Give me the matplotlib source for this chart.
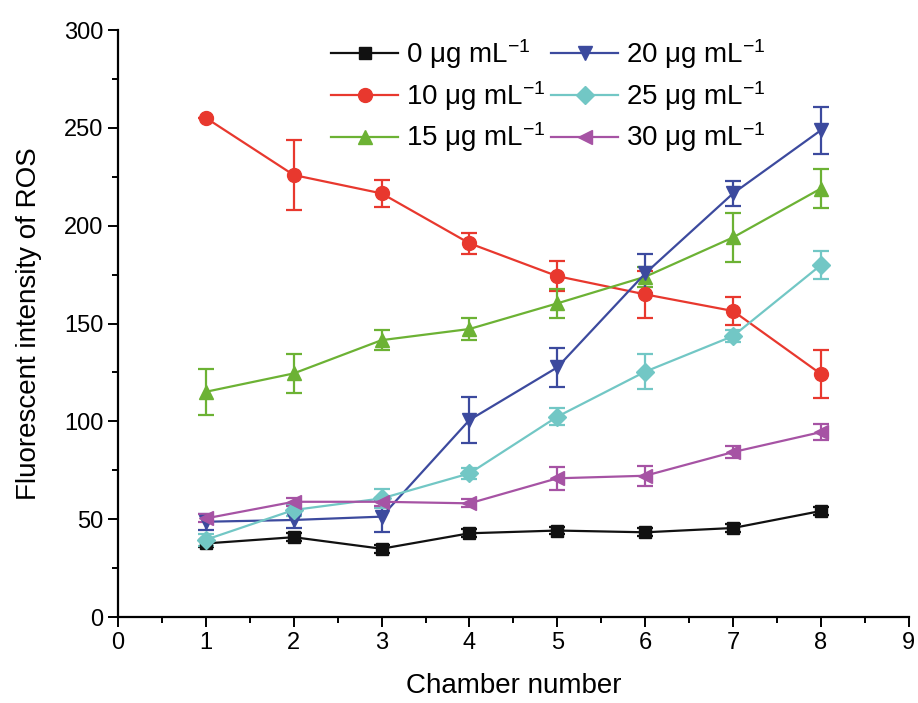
import matplotlib
matplotlib.use('Agg')
from matplotlib import pyplot as plt
from matplotlib.ticker import MultipleLocator

plt.rcParams['font.family'] = ['Liberation Sans', 'DejaVu Sans']
plt.rcParams['mathtext.default'] = 'regular'

# chamber numbers and ROS intensity
chambers = [1, 2, 3, 4, 5, 6, 7, 8]

c0 = [37.6, 40.8, 34.9, 42.8, 44.2, 43.3, 45.5, 54.2]
c0_err = [2, 2, 2, 2, 2, 2, 2, 2]

c10 = [255.1, 225.9, 216.5, 191.0, 174.2, 164.9, 156.4, 124.2]
c10_err = [0, 17.7, 7, 5.5, 7.5, 12, 7, 12.5]

c15 = [115.1, 124.5, 141.5, 147.2, 160.3, 173.9, 194.0, 219.0]
c15_err = [11.7, 10, 5, 5.5, 7.5, 5, 12.5, 10]

c20 = [48.7, 49.6, 51.3, 100.7, 127.6, 175.6, 216.5, 248.8]
c20_err = [4, 4, 8, 12, 10, 10, 6.5, 12]

c25 = [39.5, 54.7, 60.6, 73.4, 102.4, 125.4, 143.6, 179.9]
c25_err = [3, 3, 5, 3, 4.5, 9, 3, 7]

c30 = [50.4, 58.9, 58.9, 58.1, 70.9, 72.2, 84.3, 94.5]
c30_err = [2, 2, 2, 2, 6, 5, 3, 4]

labels = ['0 \u03bcg mL$^{-1}$', '10 \u03bcg mL$^{-1}$', '15 \u03bcg mL$^{-1}$',
          '20 \u03bcg mL$^{-1}$', '25 \u03bcg mL$^{-1}$', '30 \u03bcg mL$^{-1}$']
series = [c0, c10, c15, c20, c25, c30]
errors = [c0_err, c10_err, c15_err, c20_err, c25_err, c30_err]
colors = ['#111111', '#e8382e', '#6cb234', '#3c4a9e', '#72c7c5', '#a653a4']
markers = ['s', 'o', '^', 'v', 'D', '<']
msizes = [8, 10, 10, 10, 9, 10]

fig = plt.figure(figsize=(9.18, 7.03), dpi=100)
ax = fig.add_axes([0.1285, 0.1223, 0.8615, 0.8350])

for y, e, c, m, ms, lab in zip(series, errors, colors, markers, msizes, labels):
    ax.errorbar(chambers, y, yerr=e, color=c, marker=m, markersize=ms,
                linewidth=1.6, elinewidth=1.6, capsize=6, capthick=1.6,
                label=lab)

ax.set_xlim(0, 9)
ax.set_ylim(0, 300)
ax.xaxis.set_major_locator(MultipleLocator(1))
ax.xaxis.set_minor_locator(MultipleLocator(0.5))
ax.yaxis.set_major_locator(MultipleLocator(50))
ax.yaxis.set_minor_locator(MultipleLocator(25))

ax.spines['top'].set_visible(False)
ax.spines['right'].set_visible(False)
ax.spines['left'].set_linewidth(1.6)
ax.spines['bottom'].set_linewidth(1.6)
ax.tick_params(axis='both', which='major', direction='out', length=7,
               width=1.4, labelsize=17)
ax.tick_params(axis='both', which='minor', direction='out', length=4,
               width=1.4)

ax.set_xlabel('Chamber number', fontsize=20, labelpad=14)
ax.set_ylabel('Fluorescent intensity of ROS', fontsize=20, labelpad=16)

# legend handles without error bar stubs
handles, labs = ax.get_legend_handles_labels()
handles = [h[0] for h in handles]
ax.legend(handles, labs, ncol=2, frameon=False, fontsize=20,
          loc='upper left', bbox_to_anchor=(0.238, 1.03),
          handlelength=2.4, columnspacing=0.2, labelspacing=0.28,
          handletextpad=0.3)

fig.savefig('out.png', dpi=100)
